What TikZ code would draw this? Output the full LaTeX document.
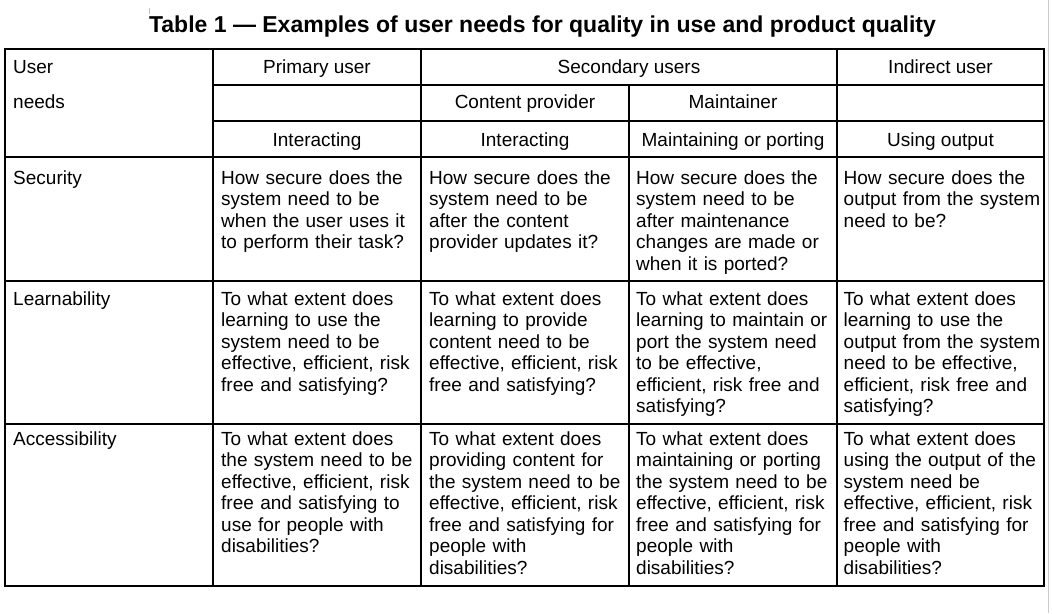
\documentclass[tikz,border=0pt]{standalone}
\usepackage{fontspec}
\setmainfont{Liberation Sans}
\usepackage{tikz}

\tikzset{
  celda/.style={anchor=base west, inner sep=0pt, text width=205pt, align=left,
    font=\fontsize{19pt}{21.5pt}\selectfont},
  cabecera/.style={anchor=base, inner sep=0pt, font=\fontsize{19pt}{21.5pt}\selectfont},
  linea/.style={line width=1.8pt, black}
}

\begin{document}
\begin{tikzpicture}[x=1pt, y=-1pt]

			\useasboundingbox (0,0) rectangle (1052,613);

			% Borde gris de la pagina
			\draw[gray!40, line width=0.8pt] (1048,0) -- (1048,613);
			\draw[gray!50, line width=0.8pt] (149,8) -- (149,14);

			% Titulo
			\node[anchor=base, inner sep=0pt, font=\fontsize{23pt}{26pt}\selectfont\bfseries] (titulo) at (542.5,32.5) {Table 1 --- Examples of user needs for quality in use and product quality};

			% Marco de la tabla
			\draw[linea] (5,49) rectangle (1044,586); % Borde exterior
			\draw[linea] (213,85) -- (1044,85);
			\draw[linea] (213,121) -- (1044,121);
			\draw[linea] (5,157) -- (1044,157);
			\draw[linea] (5,281) -- (1044,281);
			\draw[linea] (5,424) -- (1044,424);
			\draw[linea] (213,49) -- (213,586);
			\draw[linea] (421,49) -- (421,586);
			\draw[linea] (629,85) -- (629,586);
			\draw[linea] (837,49) -- (837,586);

			% Cabeceras
			\node[celda] (user) at (13,73) {User};
			\node[celda] (needs) at (13,108) {needs};
			\node[cabecera] (primario) at (317,73) {Primary user};
			\node[cabecera] (secundario) at (629,73) {Secondary users};
			\node[cabecera] (indirecto) at (940.5,73) {Indirect user};
			\node[cabecera] (proveedor) at (525,108) {Content provider};
			\node[cabecera] (mantenedor) at (733,108) {Maintainer};
			\node[cabecera] (interaccion1) at (317,146) {Interacting};
			\node[cabecera] (interaccion2) at (525,146) {Interacting};
			\node[cabecera] (mantenimiento) at (733,146) {Maintaining or porting};
			\node[cabecera] (salida) at (940.5,146) {Using output};

			% Fila de seguridad
			\node[celda] (seguridad) at (13,184) {Security};
			\node[celda] (seg1) at (221,184) {How secure does the\\ system need to be\\ when the user uses it\\ to perform their task?};
			\node[celda] (seg2) at (429,184) {How secure does the\\ system need to be\\ after the content\\ provider updates it?};
			\node[celda] (seg3) at (636,184) {How secure does the\\ system need to be\\ after maintenance\\ changes are made or\\ when it is ported?};
			\node[celda] (seg4) at (843.5,184) {How secure does the\\ output from the system\\ need to be?};

			% Fila de aprendizaje
			\node[celda] (aprendizaje) at (13,305) {Learnability};
			\node[celda] (apr1) at (221,305) {To what extent does\\ learning to use the\\ system need to be\\ effective, efficient, risk\\ free and satisfying?};
			\node[celda] (apr2) at (429,305) {To what extent does\\ learning to provide\\ content need to be\\ effective, efficient, risk\\ free and satisfying?};
			\node[celda] (apr3) at (636,305) {To what extent does\\ learning to maintain or\\ port the system need\\ to be effective,\\ efficient, risk free and\\ satisfying?};
			\node[celda] (apr4) at (843.5,305) {To what extent does\\ learning to use the\\ output from the system\\ need to be effective,\\ efficient, risk free and\\ satisfying?};

			% Fila de accesibilidad
			\node[celda] (accesibilidad) at (13,445) {Accessibility};
			\node[celda] (acc1) at (221,445) {To what extent does\\ the system need to be\\ effective, efficient, risk\\ free and satisfying to\\ use for people with\\ disabilities?};
			\node[celda] (acc2) at (429,445) {To what extent does\\ providing content for\\ the system need to be\\ effective, efficient, risk\\ free and satisfying for\\ people with\\ disabilities?};
			\node[celda] (acc3) at (636,445) {To what extent does\\ maintaining or porting\\ the system need to be\\ effective, efficient, risk\\ free and satisfying for\\ people with\\ disabilities?};
			\node[celda] (acc4) at (843.5,445) {To what extent does\\ using the output of the\\ system need be\\ effective, efficient, risk\\ free and satisfying for\\ people with\\ disabilities?};

		\end{tikzpicture}
\end{document}
